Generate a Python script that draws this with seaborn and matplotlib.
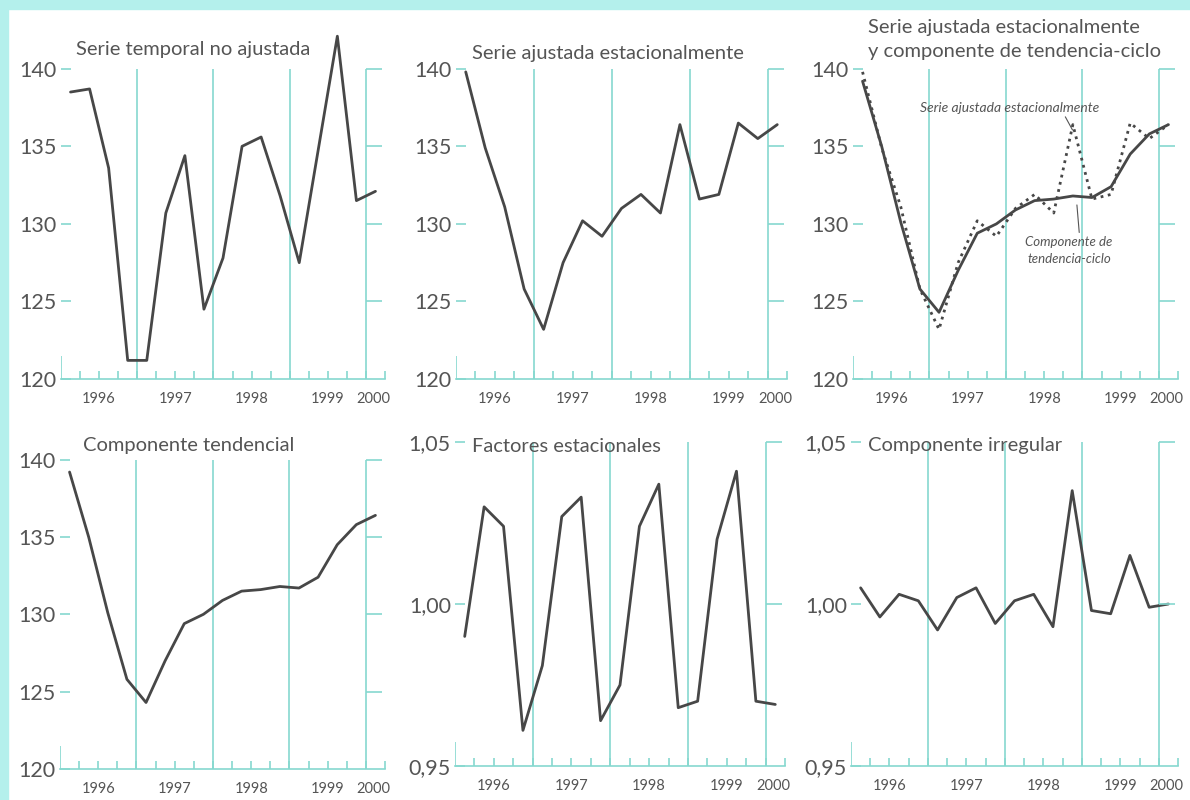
import numpy as np
import matplotlib.pyplot as plt
import seaborn as sns
from matplotlib.patches import Rectangle

# quarterly data, 1996 T1 .. 2000 T1
quarters = ['1996T1', '1996T2', '1996T3', '1996T4', '1997T1', '1997T2', '1997T3', '1997T4',
            '1998T1', '1998T2', '1998T3', '1998T4', '1999T1', '1999T2', '1999T3', '1999T4',
            '2000T1']
serie_original = [138.5, 138.7, 133.6, 121.2, 121.2, 130.7, 134.4, 124.5, 127.8,
                  135.0, 135.6, 131.8, 127.5, 134.8, 142.1, 131.5, 132.1]
serie_ajustada = [139.8, 134.9, 131.1, 125.8, 123.2, 127.5, 130.2, 129.2, 131.0,
                  131.9, 130.7, 136.4, 131.6, 131.9, 136.5, 135.5, 136.4]
tendencia = [139.2, 135.0, 130.1, 125.8, 124.3, 127.0, 129.4, 130.0, 130.9,
             131.5, 131.6, 131.8, 131.7, 132.4, 134.5, 135.8, 136.4]
factores = [0.990, 1.030, 1.024, 0.961, 0.981, 1.027, 1.033, 0.964, 0.975,
            1.024, 1.037, 0.968, 0.970, 1.020, 1.041, 0.970, 0.969]
irregular = [1.005, 0.996, 1.003, 1.001, 0.992, 1.002, 1.005, 0.994, 1.001,
             1.003, 0.993, 1.035, 0.998, 0.997, 1.015, 0.999, 1.000]

years = ['1996', '1997', '1998', '1999', '2000']
year_pos = [2, 6, 10, 14, 16.4]
yticks_idx = [120, 125, 130, 135, 140]
yticks_ratio = [0.95, 1.00, 1.05]
ratio_labels = ['0,95', '1,00', '1,05']

x = np.arange(len(quarters)) + 0.5

sns.set_style('white')
plt.rcParams['font.family'] = ['Lato', 'DejaVu Sans']

CYAN = '#86d8cf'
LINE = '#474747'
TXT = '#555555'

fig = plt.figure(figsize=(11.9, 8), dpi=100)
fig.patch.set_facecolor('white')
# cyan frame on the top and left edge of the page
fig.patches.append(Rectangle((0, 0), 8 / 1190, 1, transform=fig.transFigure,
                             color='#b4f0ec', zorder=0))
fig.patches.append(Rectangle((0, 1 - 9 / 800), 1, 9 / 800, transform=fig.transFigure,
                             color='#b4f0ec', zorder=0))


def make_axes(left, right, top, bottom):
    return fig.add_axes([left / 1190, 1 - bottom / 800, (right - left) / 1190, (bottom - top) / 800])


def style(ax, ymin, ymax, ytop, ticks, labels):
    ax.set_xlim(0, 17)
    ax.set_ylim(ymin, ytop)
    ax.set_facecolor('none')
    for s in ['top', 'right', 'left']:
        ax.spines[s].set_visible(False)
    ax.spines['bottom'].set_color(CYAN)
    ax.spines['bottom'].set_linewidth(1.2)
    # year boundaries
    ax.vlines([4, 8, 12, 16], ymin, ymax, color=CYAN, lw=1.2, zorder=1)
    # short piece of left axis at the bottom
    ax.vlines([0], ymin, ymin + (ymax - ymin) * 0.075, color=CYAN, lw=1.2)
    # ticks on the right line
    ax.hlines(ticks[1:], 16, 16.85, color=CYAN, lw=1.2)
    ax.set_yticks(ticks)
    ax.set_yticklabels(labels)
    ax.tick_params(axis='y', left=True, direction='in', length=7, width=1.2, color=CYAN,
                   labelsize=15.5, labelcolor=TXT, pad=3)
    ax.set_xticks(np.arange(1, 18))
    ax.set_xticklabels([])
    ax.tick_params(axis='x', bottom=True, direction='in', length=6, width=1.2, color=CYAN)
    for yr, p in zip(years, year_pos):
        ax.annotate(yr, xy=(p, 0), xycoords=ax.get_xaxis_transform(),
                    xytext=(0, -14.5), textcoords='offset points',
                    ha='center', va='center', fontsize=10.5, color=TXT)
    ax.set_xlabel('')
    ax.set_ylabel('')


idx_labels = [str(v) for v in yticks_idx]

# row 1
ax1 = make_axes(61, 385, 30, 379)
sns.lineplot(x=x, y=serie_original, ax=ax1, color=LINE, lw=2)
style(ax1, 120, 140, 142.5, yticks_idx, idx_labels)

ax2 = make_axes(456, 787, 30, 379)
sns.lineplot(x=x, y=serie_ajustada, ax=ax2, color=LINE, lw=2)
style(ax2, 120, 140, 142.5, yticks_idx, idx_labels)

ax3 = make_axes(853, 1178, 30, 379)
sns.lineplot(x=x, y=serie_ajustada, ax=ax3, color=LINE, lw=2, linestyle=':')
sns.lineplot(x=x, y=tendencia, ax=ax3, color=LINE, lw=2)
style(ax3, 120, 140, 142.5, yticks_idx, idx_labels)
ax3.annotate('Serie ajustada estacionalmente', xy=(11.55, 135.9), xytext=(8.2, 137.5),
             ha='center', va='center', fontsize=10, style='italic', color=TXT,
             arrowprops=dict(arrowstyle='-', color=TXT, lw=0.8, shrinkA=0,
                             relpos=(0.8, 0.0)))
ax3.annotate('Componente de\ntendencia-ciclo', xy=(11.7, 131.4), xytext=(11.3, 128.3),
             ha='center', va='center', fontsize=9.5, style='italic', color=TXT,
             linespacing=1.5,
             arrowprops=dict(arrowstyle='-', color=TXT, lw=0.8, shrinkA=0,
                             relpos=(0.62, 1.0)))

# row 2
ax4 = make_axes(60, 385, 421, 769)
sns.lineplot(x=x, y=tendencia, ax=ax4, color=LINE, lw=2)
style(ax4, 120, 140, 142.5, yticks_idx, idx_labels)

ax5 = make_axes(455, 785, 421, 766)
sns.lineplot(x=x, y=factores, ax=ax5, color=LINE, lw=2)
style(ax5, 0.95, 1.05, 1.0565, yticks_ratio, ratio_labels)

ax6 = make_axes(851, 1178, 421, 766)
sns.lineplot(x=x, y=irregular, ax=ax6, color=LINE, lw=2)
style(ax6, 0.95, 1.05, 1.0565, yticks_ratio, ratio_labels)

titles = [
    ('Serie temporal no ajustada', 76, 50),
    ('Serie ajustada estacionalmente', 472, 53),
    ('Serie ajustada estacionalmente', 868, 27),
    ('y componente de tendencia-ciclo', 868, 51),
    ('Componente tendencial', 83, 446),
    ('Factores estacionales', 472, 446),
    ('Componente irregular', 868, 445),
]
for t, px, py in titles:
    fig.text(px / 1190, 1 - py / 800, t, fontsize=14.5, color=TXT, va='center', ha='left')

fig.savefig('out.png', dpi=100, facecolor=fig.get_facecolor())
